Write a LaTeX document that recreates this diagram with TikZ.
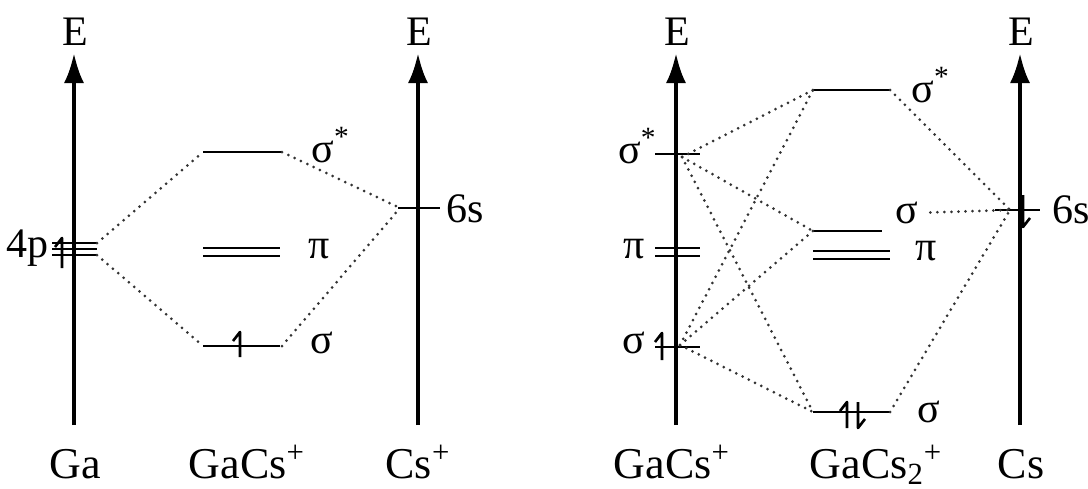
\documentclass[tikz,border=0pt]{standalone}
\usepackage{fontspec}
\setmainfont{Liberation Serif}
\usetikzlibrary{arrows.meta}

% espines: x, y arriba, y abajo
\newcommand{\upspin}[3]{\draw[spin] (#1,#3) -- (#1,#2) -- ++(-7,9);}
\newcommand{\downspin}[3]{\draw[spin] (#1,#2) -- (#1,#3) -- ++(7,-9);}

\begin{document}
\begin{tikzpicture}[x=0.5pt, y=-0.5pt, line join=round,
                    every node/.style={font=\fontsize{21}{24}\selectfont, inner sep=0pt},
                    axis/.style={line width=2pt, -{Latex[length=15pt,width=10pt]}},
                    level/.style={line width=1pt},
                    spin/.style={line width=1.3pt},
                    corr/.style={line width=1.5pt, line cap=round,
                                 dash pattern=on 0pt off 3.5pt, black!80},
                    mol/.style={font=\fontsize{22}{24}\selectfont, anchor=base}]

  \useasboundingbox (0,0) rectangle (1088,488);

  %--- ejes de energía ---
  \def\yTop{53}
  \def\yBot{425}
  \foreach \x/\n in {74/EGa, 418/ECsp, 676/EGaCs, 1020/ECs}{
    \draw[axis] (\x,\yBot) -- (\x,\yTop);
    \node[anchor=base] (\n) at (\x+1,45) {E};
  }

  %--- nombres abajo ---
  \node[mol] (Ga)     at (75,478)  {Ga};
  \node[mol] (GaCsA)  at (247,478) {GaCs\textsuperscript{+}};
  \node[mol] (Csp)    at (418,478) {Cs\textsuperscript{+}};
  \node[mol] (GaCsB)  at (672,478) {GaCs\textsuperscript{+}};
  \node[mol] (GaCsTwo) at (876,478) {GaCs\textsubscript{2}\textsuperscript{+}};
  \node[mol] (Cs)     at (1021,478) {Cs};

  %--- Ga: 4p ---
  \foreach \y in {243,249,255} \draw[level] (52,\y) -- (97,\y);
  \upspin{62}{238}{268}
  \node[anchor=base east] (lfp) at (49,257) {4p};
  \coordinate (fpA) at (97,243);
  \coordinate (fpB) at (97,255);

  %--- GaCs+ (izquierda) ---
  \draw[level] (203,152) -- (282,152);
  \draw[level] (203,248) -- (280,248);
  \draw[level] (203,256) -- (280,256);
  \draw[level] (203,346) -- (280,346);
  \upspin{240}{332}{357}
  \coordinate (sstL) at (203,152);
  \coordinate (sstR) at (282,152);
  \coordinate (sL)   at (203,346);
  \coordinate (sR)   at (282,346);
  \node[anchor=base west] (lsstA) at (311,162) {σ\textsuperscript{*}};
  \node[anchor=base west] (lpiA)  at (308,258) {π};
  \node[anchor=base west] (lsA)   at (310,353) {σ};

  %--- Cs+: 6s ---
  \draw[level] (398,208) -- (440,208);
  \coordinate (ssA) at (400,208);
  \node[anchor=base west] (lssA) at (446,222) {6s};

  %--- correlaciones (izquierda) ---
  \draw[corr] (fpA) -- (sstL);
  \draw[corr] (fpB) -- (sL);
  \draw[corr] (sstR) -- (ssA);
  \draw[corr] (sR) -- (ssA);

  %--- GaCs+ (derecha) ---
  \draw[level] (655,154) -- (700,154);
  \draw[level] (655,248) -- (700,248);
  \draw[level] (655,256) -- (700,256);
  \draw[level] (655,347) -- (700,347);
  \upspin{662}{333}{360}
  \coordinate (gst) at (682,157);
  \coordinate (gs)  at (680,345);
  \node[anchor=base east] (lsstB) at (657,163) {σ\textsuperscript{*}};
  \node[anchor=base east] (lpiB)  at (645,258) {π};
  \node[anchor=base east] (lsB)   at (646,353) {σ};

  %--- GaCs2+ ---
  \draw[level] (813,90)  -- (890,90);
  \draw[level] (813,231) -- (882,231);
  \draw[level] (813,251) -- (890,251);
  \draw[level] (813,259) -- (890,259);
  \draw[level] (813,412) -- (890,412);
  \upspin{847}{402}{428}
  \downspin{858}{402}{428}
  \coordinate (tstL) at (813,90);
  \coordinate (tstR) at (890,90);
  \coordinate (tsmL) at (813,231);
  \coordinate (tsbL) at (813,412);
  \coordinate (tsbR) at (890,412);
  \node[anchor=base west] (lsstC) at (911,102) {σ\textsuperscript{*}};
  \node[anchor=base west] (lsmC)  at (895,223) {σ};
  \node[anchor=base west] (lpiC)  at (915,260) {π};
  \node[anchor=base west] (lsbC)  at (917,422) {σ};

  %--- Cs: 6s ---
  \draw[level] (995,210) -- (1040,210);
  \downspin{1023}{195}{227}
  \coordinate (ssB) at (1010,210);
  \node[anchor=base west] (lssB) at (1052,223) {6s};

  %--- correlaciones (derecha) ---
  \foreach \t in {tstL, tsmL, tsbL}{
    \draw[corr] (gst) -- (\t);
    \draw[corr] (gs) -- (\t);
  }
  \draw[corr] (tstR) -- (ssB);
  \draw[corr] (lsmC.east) ++(12,0) -- (ssB);
  \draw[corr] (tsbR) -- (ssB);

\end{tikzpicture}
\end{document}
